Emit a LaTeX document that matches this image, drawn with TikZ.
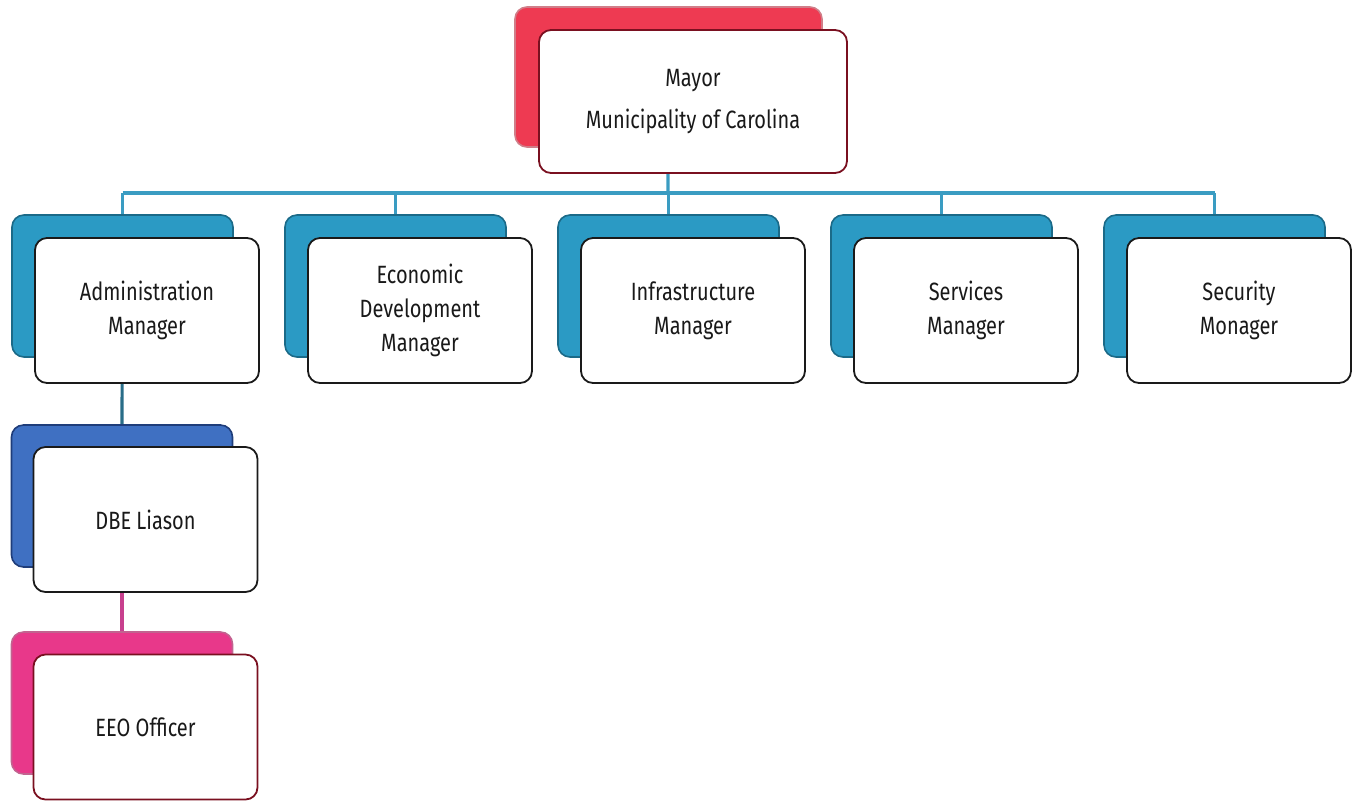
\documentclass[tikz,border=0pt]{standalone}
\usepackage{fontspec}
\setmainfont{Fira Sans}[FakeStretch=0.8]
\usetikzlibrary{positioning}
\pgfdeclarelayer{background}
\pgfsetlayers{background,main}
\definecolor{teal2}{HTML}{2B9AC4}
\definecolor{teal2d}{HTML}{1B6A88}
\definecolor{mred}{HTML}{EE3A52}
\definecolor{mredd}{HTML}{B0283A}
\definecolor{dbeblue}{HTML}{3F70C2}
\definecolor{dbeblued}{HTML}{1F3D7A}
\definecolor{eeopink}{HTML}{E8388A}
\definecolor{eeopinkd}{HTML}{A82060}
\definecolor{busc}{HTML}{3A9CC2}
\definecolor{pinkline}{HTML}{C8408E}
\definecolor{frontd}{HTML}{1A1A1A}
\definecolor{frontr}{HTML}{7A1020}
\tikzset{
  back/.style={rounded corners=6pt, minimum width=110.5pt, minimum height=71pt, line width=0.8pt},
  front/.style={rounded corners=6pt, fill=white, draw=frontd, line width=0.9pt, minimum width=112pt, minimum height=72.5pt, align=center, font=\fontsize{12.5}{17}\selectfont, text=black!90},
  conn/.style={line width=1.6pt, draw=busc},
}
\begin{document}
\begin{tikzpicture}[x=0.5pt,y=-0.5pt]
\useasboundingbox (0,0) rectangle (1359,800);
% Mayor
\node[back, fill=mred, draw=mredd!60, minimum width=153.5pt, minimum height=70pt] (mayorB) at (668.5,77) {};
\node[front, draw=frontr, minimum width=154pt, minimum height=71.5pt, font=\fontsize{12.5}{21}\selectfont] (mayor) at (693,101.5) {Mayor\\Municipality of Carolina};
% Level 2
\foreach \n/\i/\t in {admin/0/{Administration\\Manager}, econ/1/{Economic\\Development\\Manager}, infra/2/{Infrastructure\\Manager}, serv/3/{Services\\Manager}, sec/4/{Security\\Monager}}{
  \node[back, fill=teal2, draw=teal2d] (\n B) at ({122.5+273*\i},286) {};
  \node[front] (\n) at ({147+273*\i},310.5) {\t};
}
% DBE
\node[back, fill=dbeblue, draw=dbeblued] (dbeB) at (122,496) {};
\node[front] (dbe) at (145.5,519.5) {DBE Liason};
% EEO
\node[back, fill=eeopink, draw=eeopinkd!70] (eeoB) at (122,703) {};
\node[front, draw=frontr] (eeo) at (145.5,727) {EEO Officer};
\coordinate (bus) at (668,193);
\begin{pgfonlayer}{background}
\draw[conn] (mayorB.center) -- (bus);
\draw[conn] (bus -| adminB) -- (bus -| secB);
\foreach \n in {admin,econ,infra,serv,sec}{
  \draw[conn] (bus -| \n B) -- (\n B.north);
}
\draw[conn, draw=busc!70!black] (adminB.center) -- (dbeB.north);
\draw[conn, draw=pinkline] (dbeB.center) -- (eeoB.north);
\end{pgfonlayer}
\end{tikzpicture}
\end{document}
